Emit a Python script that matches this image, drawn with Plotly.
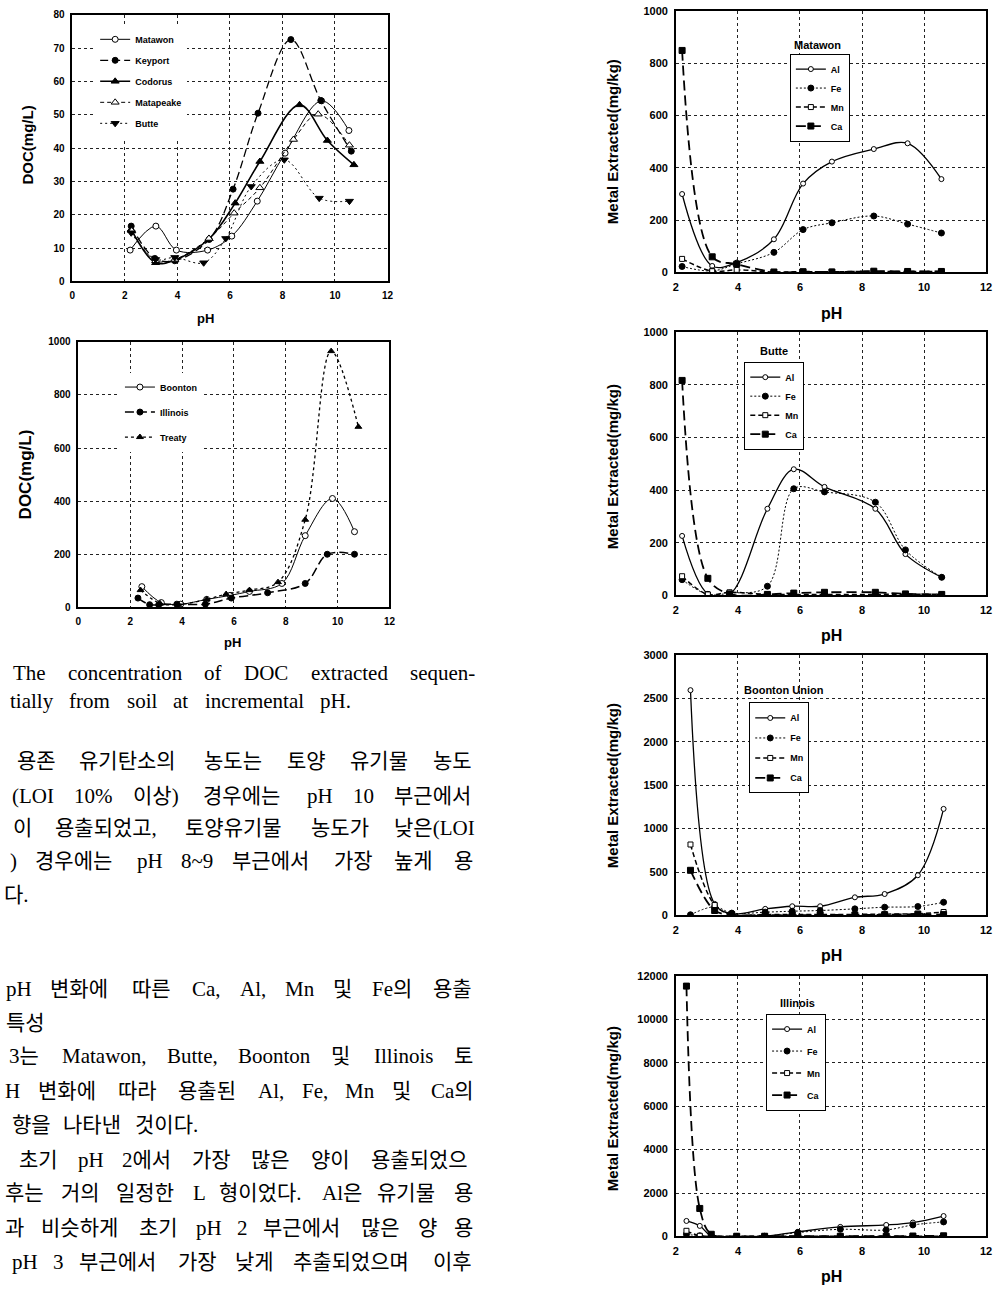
import plotly.graph_objects as go

W, H = 1002, 1291
def X(px): return px / W
def Y(py): return 1 - py / H

# ---------------- DATA ----------------
# Fig. (top-left) DOC vs pH, low organic soils
matawon_ph = [2.2, 3.18, 3.96, 5.15, 6.07, 7.04, 8.1, 9.49, 10.53]
matawon_doc = [9.4, 16.6, 9.4, 9.4, 13.6, 24.1, 38.5, 54.2, 45.3]
keyport_ph = [2.24, 3.14, 3.9, 5.21, 6.12, 7.07, 8.32, 9.46, 10.62]
keyport_doc = [16.6, 6.9, 6.2, 12.6, 27.7, 50.5, 72.6, 54.3, 39.1]
codorus_ph = [2.24, 3.17, 3.9, 5.21, 6.2, 7.14, 8.65, 9.71, 10.72]
codorus_doc = [15.6, 5.6, 6.4, 12.8, 23.5, 36.0, 53.0, 42.3, 35.0]
matapeake_ph = [2.26, 3.17, 3.9, 5.2, 6.16, 7.14, 8.42, 9.36, 10.55]
matapeake_doc = [15.2, 6.2, 6.6, 12.9, 20.5, 28.1, 42.6, 50.2, 40.9]
butte_ph = [2.24, 3.17, 3.9, 5.0, 5.84, 6.81, 8.07, 9.4, 10.55]
butte_doc = [14.6, 6.6, 7.2, 5.6, 12.9, 28.5, 36.5, 25.0, 24.1]

# Fig. (bottom-left) DOC vs pH, high organic soils
boonton_ph = [2.45, 3.2, 3.95, 4.95, 5.85, 6.6, 7.85, 8.75, 9.8, 10.65]
boonton_doc = [78, 18, 12, 30, 45, 60, 90, 270, 410, 285]
illinois_ph = [2.3, 2.75, 3.1, 3.8, 4.9, 5.9, 7.3, 8.75, 9.6, 10.65]
illinois_doc = [35, 10, 10, 12, 12, 35, 55, 90, 200, 200]
treaty_ph = [2.4, 3.15, 3.85, 4.95, 5.7, 6.6, 7.7, 8.75, 9.75, 10.8]
treaty_doc = [65, 15, 10, 30, 50, 65, 95, 330, 965, 680]

# Metals extracted (mg/kg)
mat_ph = [2.2, 3.17, 3.96, 5.16, 6.1, 7.03, 8.38, 9.47, 10.56]
mat_al = [300, 25, 38, 127, 340, 424, 472, 494, 357]
mat_fe = [23, 6, 33, 77, 164, 190, 216, 185, 151]
mat_mn = [52, 5, 10, 2, 3, 3, 4, 4, 4]
mat_ca = [849, 60, 32, 2, 3, 2, 5, 4, 4]

but_ph = [2.2, 3.03, 3.73, 4.95, 5.8, 6.79, 8.43, 9.4, 10.57]
but_al = [226, 6, 4, 329, 479, 412, 329, 157, 69]
but_fe = [60, 4, 9, 35, 405, 393, 354, 173, 69]
but_mn = [73, 4, 12, 4, 4, 4, 4, 5, 4]
but_ca = [816, 65, 6, 4, 9, 12, 12, 6, 4]

boo_ph = [2.47, 3.25, 3.8, 4.88, 5.75, 6.65, 7.77, 8.73, 9.8, 10.63]
boo_al = [2594, 133, 19, 76, 106, 106, 209, 247, 463, 1227]
boo_fe = [8, 100, 27, 38, 49, 57, 76, 95, 103, 152]
boo_mn = [817, 120, 10, 10, 10, 10, 12, 15, 20, 40]
boo_ca = [520, 57, 8, 5, 5, 5, 6, 8, 15, 10]

ill_ph = [2.34, 2.77, 3.14, 3.96, 4.86, 5.93, 7.3, 8.78, 9.64, 10.63]
ill_al = [714, 486, 30, 0, 15, 213, 440, 530, 640, 940]
ill_fe = [100, 30, 10, 0, 10, 180, 330, 300, 530, 670]
ill_mn = [260, 30, 10, 5, 5, 5, 5, 5, 10, 10]
ill_ca = [11530, 1290, 100, 10, 10, 10, 10, 10, 20, 30]

metal_names = ["Al", "Fe", "Mn", "Ca"]

# ---------------- FIGURE ----------------
SANS = "Liberation Sans, Arial, sans-serif"
SERIF = "Liberation Serif, Noto Sans CJK KR, serif"
fig = go.Figure()

# panel geometry in pixels: left, right, top, bottom
panels = [
    dict(n="", box=(70, 388, 9, 278), xr=[0, 12], yr=[0, 80], dy=10, tfs=10),
    dict(n="2", box=(76, 390, 339, 607), xr=[0, 12], yr=[0, 1000], dy=200, tfs=10),
    dict(n="3", box=(679, 992, 5, 269), xr=[2, 12], yr=[0, 1000], dy=200, tfs=11),
    dict(n="4", box=(679, 992, 329, 595), xr=[2, 12], yr=[0, 1000], dy=200, tfs=11),
    dict(n="5", box=(679, 992, 655, 918), xr=[2, 12], yr=[0, 3000], dy=500, tfs=11),
    dict(n="6", box=(679, 992, 979, 1242), xr=[2, 12], yr=[0, 12000], dy=2000, tfs=11),
]
layout_axes = {}
for p in panels:
    l, r, t, b = p["box"]
    n = p["n"]
    common = dict(showline=True, mirror=True, linecolor="black", linewidth=1.5,
                  showgrid=True, gridcolor="#222", griddash="dot", gridwidth=1,
                  zeroline=False, ticks="", ticklabelstandoff=4, tickformat="d",
                  tickfont=dict(family=SANS, size=p["tfs"], color="black", weight="bold"))
    layout_axes["xaxis" + n] = dict(common, domain=[X(l), X(r)], range=p["xr"], dtick=2,
                                    anchor="y" + n)
    layout_axes["yaxis" + n] = dict(common, domain=[Y(b), Y(t)], range=p["yr"], dtick=p["dy"],
                                    anchor="x" + n)

def add(x, y, name, n, legend, group, dash, width, symbol, msize, fill):
    fig.add_trace(go.Scatter(
        x=x, y=y, name=name, mode="lines+markers",
        line=dict(color="black", width=width, dash=dash, shape="spline", smoothing=1),
        marker=dict(symbol=symbol, size=msize, color=fill,
                    line=dict(color="black", width=1)),
        xaxis="x" + n, yaxis="y" + n, legend=legend, legendgroup=group))

# top-left
add(matawon_ph, matawon_doc, "Matawon", "", "legend", "a1", "solid", 1, "circle", 6, "white")
add(keyport_ph, keyport_doc, "Keyport", "", "legend", "a2", "8px,4px", 1.3, "circle", 6, "black")
add(codorus_ph, codorus_doc, "Codorus", "", "legend", "a3", "solid", 1.6, "triangle-up", 7, "black")
add(matapeake_ph, matapeake_doc, "Matapeake", "", "legend", "a4", "4px,3px", 1, "triangle-up", 7, "white")
add(butte_ph, butte_doc, "Butte", "", "legend", "a5", "2px,3px", 1, "triangle-down", 7, "black")

# bottom-left
add(boonton_ph, boonton_doc, "Boonton", "2", "legend2", "b1", "solid", 1, "circle", 6, "white")
add(illinois_ph, illinois_doc, "Illinois", "2", "legend2", "b2", "9px,4px", 1.5, "circle", 6, "black")
add(treaty_ph, treaty_doc, "Treaty", "2", "legend2", "b3", "3px,3px", 1.3, "triangle-up", 6, "black")

metal_style = [("solid", 1.3, "circle", 5, "white"),
               ("2px,2px", 1, "circle", 6, "black"),
               ("5px,3px", 1.5, "square", 5, "white"),
               ("10px,5px", 1.8, "square", 6, "black")]
right_sets = [
    ("3", "legend3", mat_ph, [mat_al, mat_fe, mat_mn, mat_ca]),
    ("4", "legend4", but_ph, [but_al, but_fe, but_mn, but_ca]),
    ("5", "legend5", boo_ph, [boo_al, boo_fe, boo_mn, boo_ca]),
    ("6", "legend6", ill_ph, [ill_al, ill_fe, ill_mn, ill_ca]),
]
for n, lg, ph, series in right_sets:
    for name, vals, st in zip(metal_names, series, metal_style):
        add(ph, vals, name, n, lg, lg + name, st[0], st[1], st[2], st[3], st[4])

def legend_cfg(left, top, gap, border):
    return dict(x=X(left), y=Y(top), xanchor="left", yanchor="top",
                bgcolor="white", bordercolor="black", borderwidth=1 if border else 0,
                font=dict(family=SANS, size=9, color="black", weight="bold"),
                tracegroupgap=gap, itemwidth=30, traceorder="grouped")

annotations = []
def ann(x, y, text, size, family=SANS, bold=True, angle=0, xanchor="center"):
    annotations.append(dict(x=X(x), y=Y(y), xref="paper", yref="paper", text=text,
                            showarrow=False, xanchor=xanchor, yanchor="middle",
                            textangle=angle, borderpad=0,
                            font=dict(family=family, size=size, color="black",
                                      weight="bold" if bold else "normal")))

# axis titles
ann(25, 140, "DOC(mg/L)", 15, angle=-90)
ann(204, 315, "pH", 13)
ann(23, 473, "DOC(mg/L)", 17, angle=-90)
ann(232, 642, "pH", 13)
for yc, phy in [(137, 310), (465, 635), (787, 958), (1113, 1282)]:
    ann(615, yc, "Metal Extracted(mg/kg)", 15, angle=-90)
    ann(836, phy, "pH", 16)
# legend titles
ann(822, 39, "Matawon", 11)
ann(778, 348, "Butte", 11)
ann(788, 690, "Boonton Union", 11)
ann(802, 1006, "Illinois", 11)

# ---------------- body text ----------------
TIMES = {'a': .444, 'b': .5, 'c': .444, 'd': .5, 'e': .444, 'f': .333, 'g': .5, 'h': .5, 'i': .278,
         'j': .278, 'k': .5, 'l': .278, 'm': .778, 'n': .5, 'o': .5, 'p': .5, 'q': .5, 'r': .333,
         's': .389, 't': .278, 'u': .5, 'v': .5, 'w': .722, 'x': .5, 'y': .5, 'z': .444,
         'A': .722, 'B': .667, 'C': .667, 'D': .722, 'E': .611, 'F': .556, 'G': .722, 'H': .722,
         'I': .333, 'J': .389, 'K': .722, 'L': .611, 'M': .889, 'N': .722, 'O': .722, 'P': .556,
         'Q': .722, 'R': .667, 'S': .556, 'T': .611, 'U': .722, 'V': .722, 'W': .944, 'X': .722,
         'Y': .722, 'Z': .611, '.': .25, ',': .25, '(': .333, ')': .333, '%': .833, '-': .333,
         '~': .541, ' ': .25}
FS = 21
def tw(s, fs):
    w = 0
    for ch in s:
        if ord(ch) > 0x1100:
            w += fs * 1.0
        elif ch.isdigit():
            w += fs * .5
        else:
            w += fs * TIMES.get(ch, .5)
    return w

text_lines = [
    (673, 9, 475, "The concentration of DOC extracted sequen-"),
    (702, 6, 350, "tially from soil at incremental pH."),
    (762, 13, 475, "용존 유기탄소의 농도는 토양 유기물 농도"),
    (797, 8, 478, "(LOI 10% 이상) 경우에는 pH 10 부근에서"),
    (830, 9, 478, "이 용출되었고, 토양유기물 농도가 낮은(LOI"),
    (863, 6, 475, ") 경우에는 pH 8~9 부근에서 가장 높게 용"),
    (897, 0, None, "다."),
    (992, 2, 475, "pH 변화에 따른 Ca, Al, Mn 및 Fe의 용출"),
    (1027, 2, None, "특성"),
    (1060, 5, 475, "3는 Matawon, Butte, Boonton 및 Illinois 토"),
    (1095, 1, 475, "H 변화에 따라 용출된 Al, Fe, Mn 및 Ca의"),
    (1130, 8, None, "향을 나타낸 것이다."),
    (1165, 15, 475, "초기 pH 2에서 가장 많은 양이 용출되었으"),
    (1198, 1, 475, "후는 거의 일정한 L 형이었다. Al은 유기물 용"),
    (1233, 1, 475, "과 비슷하게 초기 pH 2 부근에서 많은 양 용"),
    (1268, 8, 475, "pH 3 부근에서 가장 낮게 추출되었으며 이후"),
]
for y, left, right, text in text_lines:
    words = text.split()
    widths = [tw(w, FS) for w in words]
    if right is None or len(words) == 1:
        gap = FS * 0.45
    else:
        gap = (right - left - sum(widths)) / (len(words) - 1)
    x = left
    for w, wd in zip(words, widths):
        ann(x, y, w, FS, family=SERIF, bold=False, xanchor="left")
        x += wd + gap

fig.update_layout(
    width=W, height=H, autosize=False,
    margin=dict(l=0, r=0, t=0, b=0),
    paper_bgcolor="white", plot_bgcolor="white",
    showlegend=True,
    legend=legend_cfg(93, 19, 2, False),
    legend2=legend_cfg(118, 370, 6, False),
    legend3=legend_cfg(794, 48, 0, True),
    legend4=legend_cfg(748, 359, 0, True),
    legend5=legend_cfg(753, 703, 1, True),
    legend6=legend_cfg(770, 1017, 3, True),
    annotations=annotations,
    **layout_axes,
)
fig.write_html("out.html", config={"displayModeBar": False},
               post_script="document.body.style.margin='0';document.body.style.overflow='hidden';")
